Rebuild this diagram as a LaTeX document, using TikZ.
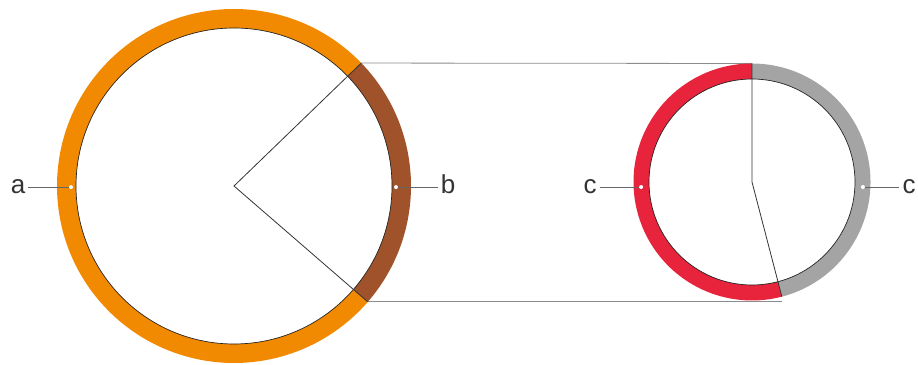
\documentclass[tikz,border=0pt]{standalone}
\usepackage{fontspec}
\setsansfont{Liberation Sans}
\usepackage{xcolor}
\usetikzlibrary{calc}

\definecolor{ringorange}{RGB}{241,138,0}
\definecolor{ringbrown}{RGB}{160,83,42}
\definecolor{ringred}{RGB}{232,36,60}
\definecolor{ringgray}{RGB}{164,164,164}

% sector of an annulus: centre, start, end, outer r, inner r, colour
\newcommand{\ringpart}[6]{%
  \fill[#6] ($(#1)+(#2:#4)$) arc[start angle=#2,end angle=#3,radius=#4]
    -- ($(#1)+(#3:#5)$) arc[start angle=#3,end angle=#2,radius=#5] -- cycle;}

\begin{document}
\begin{tikzpicture}[
    x=1pt,y=1pt,
    font=\sffamily\fontsize{26}{26}\selectfont,
    guide/.style={draw=black!45,line width=0.8pt},
    spoke/.style={draw=black!80,line width=0.8pt},
    rim/.style={draw=black!85,line width=0.7pt},
    pin/.style={draw=black!60,line width=0.9pt},
    dot/.style={circle,fill=white,inner sep=0pt,minimum size=4pt},
    lbl/.style={text=black!80,inner sep=3pt,anchor=mid}
  ]
    \useasboundingbox (0,0) rectangle (918,364);

    \coordinate (bigc) at (234,178);
    \coordinate (smallc) at (752,182);
    \coordinate (bigtop) at ($(bigc)+(44:177)$);
    \coordinate (bigbot) at ($(bigc)+(-40.9:177)$);
    \coordinate (smalltop) at ($(smallc)+(90:118.5)$);
    \coordinate (cut) at ($(smallc)+(-75.4:118.5)$);

    % guides between the two rings
    \draw[guide] (bigtop) -- (smalltop);
    \draw[guide] (bigbot) -- (bigbot -| cut);

    % rings
    \ringpart{bigc}{44}{319.1}{177}{158}{ringorange}
    \ringpart{bigc}{-40.9}{44}{177}{158}{ringbrown}
    \ringpart{smallc}{90}{284.6}{118.5}{103}{ringred}
    \ringpart{smallc}{-75.4}{90}{118.5}{103}{ringgray}

    \draw[rim] (bigc) circle[radius=158];
    \draw[rim] (smallc) circle[radius=103];

    % spokes
    \draw[spoke] (bigtop) -- (bigc) -- (bigbot);
    \draw[spoke] (smalltop) -- (smallc) -- (cut);

    % labels
    \node[dot] (dota) at ($(bigc)+(180.4:163)$) {};
    \node[dot] (dotb) at ($(bigc)+(-0.4:162)$) {};
    \node[dot] (dotc) at ($(smallc)+(182.6:111)$) {};
    \node[dot] (dotd) at ($(smallc)+(-2.6:111)$) {};

    \node[lbl] (lbla) at (18,173) {a};
    \node[lbl] (lblb) at (448,173) {b};
    \node[lbl] (lblc) at (590,173) {c};
    \node[lbl] (lbld) at (909,173) {c};

    \draw[pin] (dota) -- (dota -| lbla.east);
    \draw[pin] (dotb) -- (dotb -| lblb.west);
    \draw[pin] (dotc) -- (dotc -| lblc.east);
    \draw[pin] (dotd) -- (dotd -| lbld.west);
\end{tikzpicture}
\end{document}
